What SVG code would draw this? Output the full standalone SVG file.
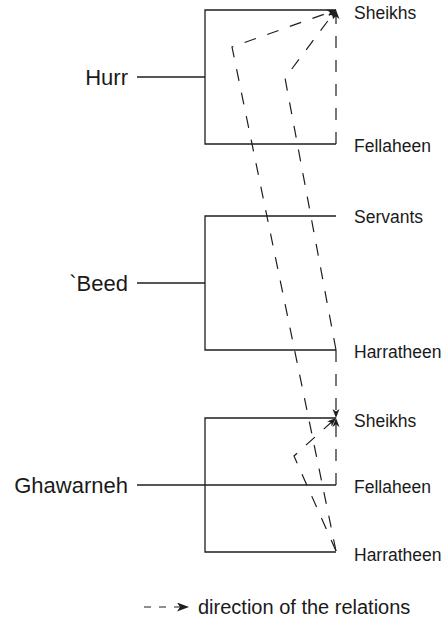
<svg xmlns="http://www.w3.org/2000/svg" width="448" height="630" viewBox="0 0 448 630">
  <style>
    .bracket { fill: none; stroke: #1e1e1e; stroke-width: 1.3; }
    .rel { fill: none; stroke: #1e1e1e; stroke-width: 1.2; stroke-dasharray: 12 12; }
    .group { font-family: "Liberation Sans", Arial, sans-serif; font-size: 22px; fill: #1a1a1a; text-anchor: end; }
    .rank { font-family: "Liberation Sans", Arial, sans-serif; font-size: 17.5px; fill: #1a1a1a; }
    .legend { font-family: "Liberation Sans", Arial, sans-serif; font-size: 20px; fill: #1a1a1a; }
  </style>
  <defs>
    <marker id="head" markerUnits="userSpaceOnUse" markerWidth="10" markerHeight="8" refX="9" refY="3.5" orient="auto" viewBox="0 0 10 7">
      <path d="M0,0 L9,3.5 L0,7 L2.5,3.5 z" fill="#1e1e1e"/>
    </marker>
    <marker id="head-lg" markerUnits="userSpaceOnUse" markerWidth="13" markerHeight="9" refX="12" refY="4.5" orient="auto" viewBox="0 0 13 9">
      <path d="M0,0 L12,4.5 L0,9 L3,4.5 z" fill="#1e1e1e"/>
    </marker>
  </defs>

  <!-- Hurr and its ranks -->
  <g id="hurr">
    <path class="bracket" d="M336,10 H205 V144 H336"/>
    <path class="bracket" d="M137,77 H205"/>
    <text class="group" x="128" y="85">Hurr</text>
    <text class="rank" x="354" y="19">Sheikhs</text>
    <text class="rank" x="354" y="152">Fellaheen</text>
  </g>

  <!-- `Beed and its ranks -->
  <g id="beed">
    <path class="bracket" d="M336,216 H205 V350 H336"/>
    <path class="bracket" d="M137,283 H205"/>
    <text class="group" x="128" y="291">`Beed</text>
    <text class="rank" x="354" y="223">Servants</text>
    <text class="rank" x="354" y="358">Harratheen</text>
  </g>

  <!-- Ghawarneh and its ranks -->
  <g id="ghawarneh">
    <path class="bracket" d="M336,418 H205 V552 H336"/>
    <path class="bracket" d="M137,485 H336"/>
    <text class="group" x="128" y="493">Ghawarneh</text>
    <text class="rank" x="354" y="427">Sheikhs</text>
    <text class="rank" x="354" y="493">Fellaheen</text>
    <text class="rank" x="354" y="561">Harratheen</text>
  </g>

  <!-- dashed relation arrows -->
  <g id="relations">
    <path class="rel" d="M336,144 V10" marker-end="url(#head)"/>
    <path class="rel" d="M336,551 L232,47 L336,10" marker-end="url(#head)"/>
    <path class="rel" d="M336,350 L285,78 L336,10" marker-end="url(#head)"/>
    <path class="rel" d="M336,350 V418" marker-end="url(#head)"/>
    <path class="rel" d="M336,485 V418" marker-end="url(#head)"/>
    <path class="rel" d="M336,551 L294,456 L336,418" marker-end="url(#head)"/>
  </g>

  <!-- legend -->
  <g id="legend">
    <path class="rel" d="M144,607 H189" style="stroke-dasharray: 7 8" marker-end="url(#head-lg)"/>
    <text class="legend" x="198" y="614">direction of the relations</text>
  </g>
</svg>
